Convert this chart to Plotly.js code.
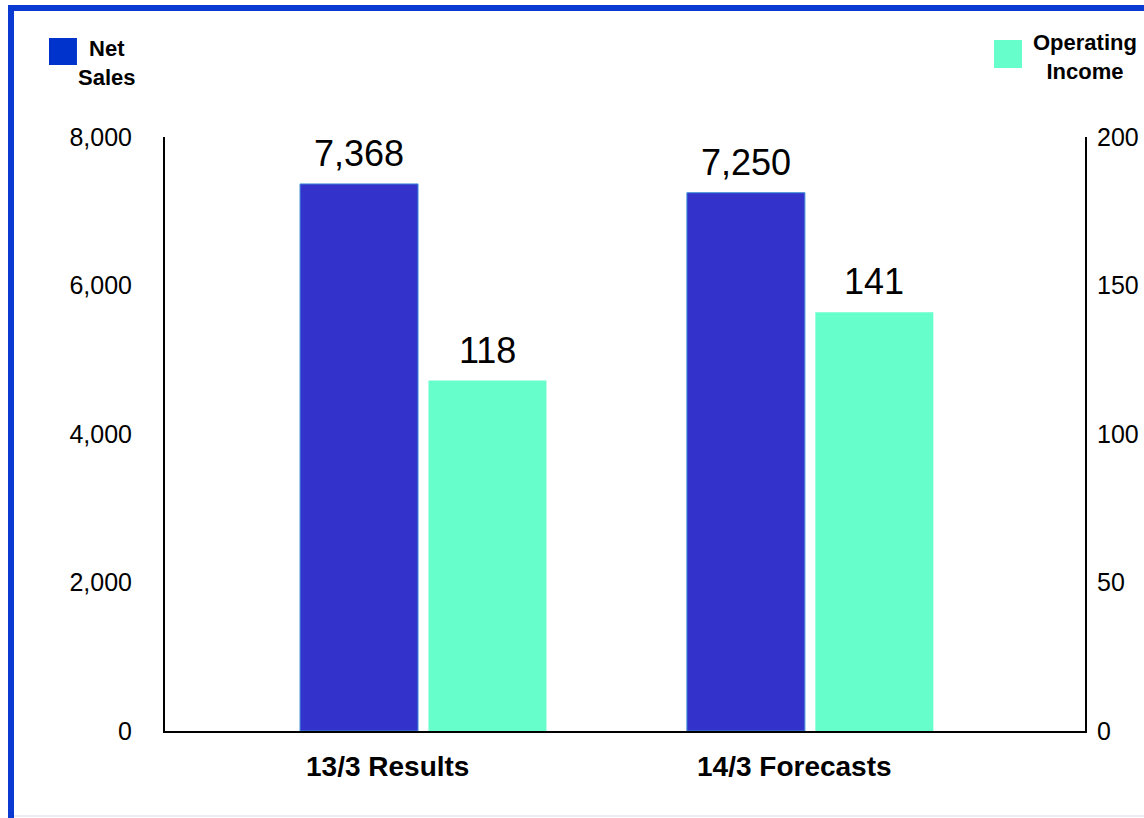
<!DOCTYPE html>
<html>
<head>
<meta charset="utf-8">
<script src="https://cdn.plot.ly/plotly-3.0.1.min.js"></script>
<style>
  html, body { margin: 0; padding: 0; background: #ffffff; overflow: hidden; }
  #wrap { position: relative; width: 1144px; height: 818px; }
  #chart { position: absolute; left: 0; top: 0; width: 1144px; height: 818px; }
  .bd { position: absolute; pointer-events: none; }
</style>
</head>
<body>
<div id="wrap">
  <div id="chart"></div>
  <div class="bd" style="left:8px; top:5px; width:1136px; height:6px; background:#0A3AD2;"></div>
  <div class="bd" style="left:8px; top:5px; width:6px; height:813px; background:#0A3AD2;"></div>
  <div class="bd" style="left:14px; top:815px; width:1130px; height:2px; background:#ECECF6;"></div>
</div>
<script>
// ---- data ----
const categories = ['13/3 Results', '14/3 Forecasts'];
const netSales = [7368, 7250];
const operatingIncome = [118, 141];
const leftTickVals = [0, 2000, 4000, 6000, 8000];
const rightTickVals = [0, 50, 100, 150, 200];
const seriesLabels = ['Net<br>Sales', 'Operating<br>Income'];

// ---- styles ----
const FONT = 'Liberation Sans, Arial, Helvetica, sans-serif';
const NS_COLOR = '#3333CC';
const OI_COLOR = '#66FFCC';
const BAR_W = 0.305;
const NS_OFF = -0.318;
const OI_OFF = 0.014;

const traces = [
  {
    type: 'bar',
    name: 'Net Sales',
    x: categories,
    y: netSales,
    yaxis: 'y',
    width: BAR_W,
    offset: NS_OFF,
    marker: { color: NS_COLOR, line: { color: '#3F8FD8', width: 1 } },
    showlegend: false,
    hoverinfo: 'x+y'
  },
  {
    type: 'bar',
    name: 'Operating Income',
    x: categories,
    y: operatingIncome,
    yaxis: 'y2',
    width: BAR_W,
    offset: OI_OFF,
    marker: { color: OI_COLOR, line: { width: 0 } },
    showlegend: false,
    hoverinfo: 'x+y'
  }
];

const valueLabel = (v, sep) => sep ? v.toLocaleString('en-US') : String(v);

const nsLabels = netSales.map((v, i) => ({
  x: i + NS_OFF + BAR_W / 2, xref: 'x',
  y: v, yref: 'y',
  xanchor: 'center', yanchor: 'bottom', yshift: 8,
  text: valueLabel(v, true), showarrow: false,
  font: { family: FONT, size: 36, color: '#000000' }
}));
const oiLabels = operatingIncome.map((v, i) => ({
  x: i + OI_OFF + BAR_W / 2, xref: 'x',
  y: v, yref: 'y2',
  xanchor: 'center', yanchor: 'bottom', yshift: 8,
  text: valueLabel(v, false), showarrow: false,
  font: { family: FONT, size: 36, color: '#000000' }
}));

const catAnnotations = categories.map((c, i) => ({
  x: c, xref: 'x',
  y: -0.0606, yref: 'paper',
  xanchor: 'center', yanchor: 'middle',
  xshift: i === 0 ? -36 : -15,
  text: '<b>' + c + '</b>',
  showarrow: false,
  font: { family: FONT, size: 28, color: '#000000' }
}));

const legendAnnotations = [
  {
    x: -0.063, xref: 'paper', y: 1.1254, yref: 'paper',
    xanchor: 'center', yanchor: 'middle', align: 'center',
    text: '<b>' + seriesLabels[0] + '</b>', showarrow: false,
    font: { family: FONT, size: 22, color: '#000000' }
  },
  {
    x: 1.0, xref: 'paper', y: 1.1347, yref: 'paper',
    xanchor: 'center', yanchor: 'middle', align: 'center',
    text: '<b>' + seriesLabels[1] + '</b>', showarrow: false,
    font: { family: FONT, size: 22, color: '#000000' }
  }
];

const layout = {
  width: 1144,
  height: 818,
  margin: { l: 165, r: 59, t: 137, b: 87, pad: 0 },
  paper_bgcolor: '#ffffff',
  plot_bgcolor: '#ffffff',
  barmode: 'group',
  showlegend: false,
  font: { family: FONT, color: '#000000' },
  xaxis: {
    type: 'category',
    range: [-0.667, 1.711],
    showticklabels: false,
    ticks: '',
    showgrid: false,
    zeroline: false,
    showline: true,
    linecolor: '#000000',
    linewidth: 2,
    fixedrange: true
  },
  yaxis: {
    range: [0, 8000],
    tickvals: leftTickVals,
    tickformat: ',',
    ticks: '',
    ticklabelstandoff: 26,
    showgrid: false,
    zeroline: false,
    showline: true,
    linecolor: '#000000',
    linewidth: 2,
    tickfont: { family: FONT, size: 25, color: '#000000' },
    fixedrange: true
  },
  yaxis2: {
    overlaying: 'y',
    side: 'right',
    range: [0, 200],
    tickvals: rightTickVals,
    ticks: '',
    ticklabelstandoff: 5,
    showgrid: false,
    zeroline: false,
    showline: true,
    linecolor: '#000000',
    linewidth: 2,
    tickfont: { family: FONT, size: 25, color: '#000000' },
    fixedrange: true
  },
  shapes: [
    { type: 'rect', xref: 'paper', yref: 'paper', x0: -0.1261, x1: -0.0957, y0: 1.1212, y1: 1.1667,
      fillcolor: '#0033CC', line: { width: 0 } },
    { type: 'rect', xref: 'paper', yref: 'paper', x0: 0.9011, x1: 0.9315, y0: 1.1162, y1: 1.1633,
      fillcolor: OI_COLOR, line: { width: 0 } }
  ],
  annotations: nsLabels.concat(oiLabels, catAnnotations, legendAnnotations)
};

Plotly.newPlot('chart', traces, layout, { displayModeBar: false, staticPlot: true });
</script>
</body>
</html>
